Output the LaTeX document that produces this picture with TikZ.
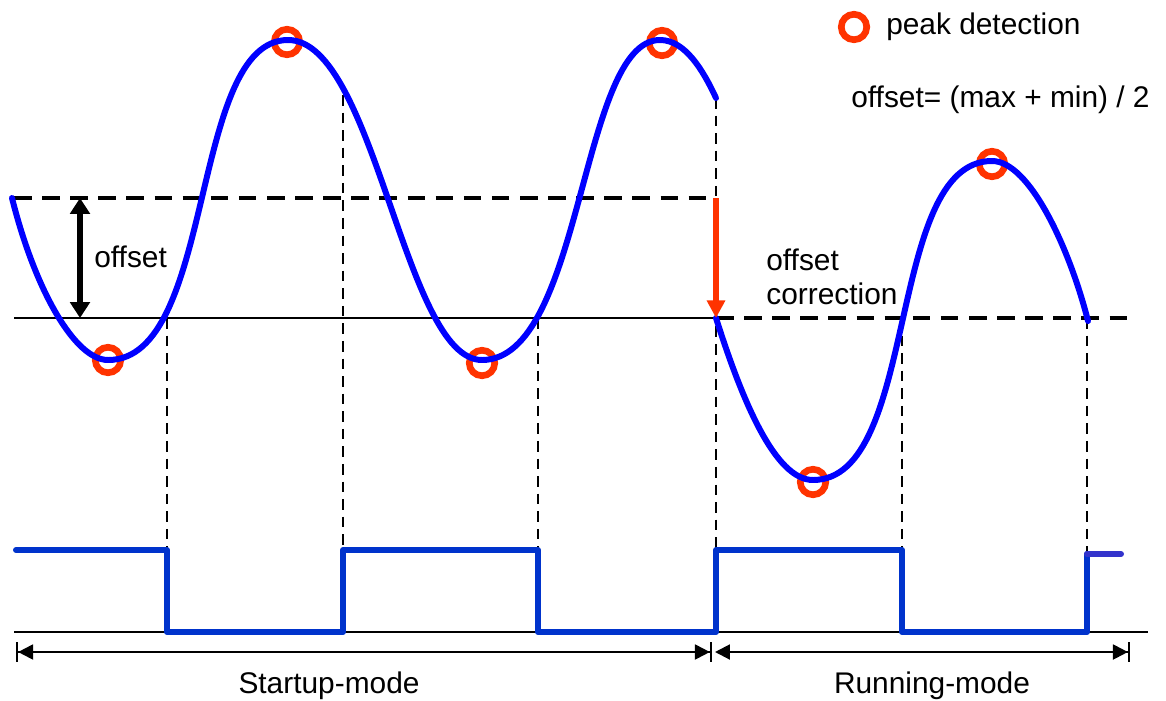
\documentclass[tikz,border=0pt]{standalone}
\usepackage{fontspec}
\setmainfont{Liberation Sans}
\usetikzlibrary{arrows.meta,positioning}

\definecolor{wblue}{HTML}{0000FF}
\definecolor{sqblue}{HTML}{0033CC}
\definecolor{stubblue}{HTML}{3333CC}
\definecolor{pkred}{HTML}{FF3300}

\begin{document}
\begin{tikzpicture}[x=0.02cm,y=-0.02cm,
    pk/.style={circle,draw=pkred,line width=3.8pt,minimum size=14.5pt,inner sep=0pt},
    sig/.style={wblue,line width=3.4pt,line cap=round},
    sq/.style={sqblue,line width=3.4pt,line join=round,line cap=round},
    lvl/.style={line width=2.8pt,dash pattern=on 10pt off 6pt},
    guide/.style={line width=1.1pt,dash pattern=on 6pt off 4pt},
    axis/.style={line width=1.1pt},
    mode/.style={line width=1.2pt},
    txt/.style={font=\fontsize{17}{19.3}\selectfont,inner sep=0pt}]
  \useasboundingbox (0,0) rectangle (1166,700);

  % levels
  \coordinate (o0) at (14,198);
  \coordinate (o1) at (716,198);
  \coordinate (b0) at (14,318);
  \coordinate (b1) at (716,318);
  \coordinate (b2) at (1136,318);
  \coordinate (g0) at (14,632);
  \coordinate (g1) at (1148,632);

  % square wave corners
  \coordinate (q0) at (16,550);
  \coordinate (q1) at (167,550);
  \coordinate (q2) at (167,632);
  \coordinate (q3) at (343,632);
  \coordinate (q4) at (343,550);
  \coordinate (q5) at (538,550);
  \coordinate (q6) at (538,632);
  \coordinate (q7) at (716,632);
  \coordinate (q8) at (716,550);
  \coordinate (q9) at (902,550);
  \coordinate (q10) at (902,632);
  \coordinate (q11) at (1087,632);
  \coordinate (q12) at (1087,554);
  \coordinate (q13) at (1121,554);

  % switching points on the signal
  \coordinate (v1) at (167,318);
  \coordinate (v2) at (343,95);
  \coordinate (v3) at (538,318);
  \coordinate (v4) at (716,98);
  \coordinate (v5) at (902,318);
  \coordinate (v6) at (1087,318);

  \draw[guide] (v1) -- (q1);
  \draw[guide] (v2) -- (q4);
  \draw[guide] (v3) -- (q5);
  \draw[guide] (v4) -- (q8);
  \draw[guide] (v5) -- (q9);
  \draw[guide] (v6) -- (q12);

  \draw[axis] (b0) -- (b1);
  \draw[axis] (g0) -- (g1);
  \draw[lvl] (o0) -- (o1);
  \draw[lvl] (b1) -- (b2);

  % peaks
  \node[pk] (pk1) at (108,360) {};
  \node[pk] (pk2) at (287,42) {};
  \node[pk] (pk3) at (482,363) {};
  \node[pk] (pk4) at (662,43) {};
  \node[pk] (pk5) at (813,482) {};
  \node[pk] (pk6) at (992,164) {};

  % signal
  \draw[sig] (12,198) .. controls (35,290) and (75,360) .. (108,360)
    .. controls (216,360) and (189,40) .. (288,40)
    .. controls (375,40) and (404,360) .. (482,360)
    .. controls (583,360) and (580,40) .. (660,40)
    .. controls (685,40) and (703,70) .. (716,98);
  \draw[sig] (716,318) .. controls (742,400) and (775,480) .. (813,480)
    .. controls (920,480) and (885,161) .. (992,161)
    .. controls (1030,161) and (1070,250) .. (1088,321);

  % comparator output
  \draw[sq] (q0) -- (q1) -- (q2) -- (q3) -- (q4) -- (q5) -- (q6) -- (q7) -- (q8) -- (q9)
    -- (q10) -- (q11) -- (q12);
  \draw[sq,stubblue] (q12) -- (q13);

  % offset arrows
  \coordinate (a0) at (80,198);
  \coordinate (a1) at (80,318);
  \draw[line width=3pt,{Triangle[length=9pt,width=11pt]}-{Triangle[length=9pt,width=11pt]}] (a0) -- (a1);
  \draw[pkred,line width=3.2pt,-{Triangle[length=10pt,width=10pt]}] (o1) -- (b1);

  % modes
  \coordinate (m0) at (16,652);
  \coordinate (m1) at (712,652);
  \coordinate (m2) at (715,652);
  \coordinate (m3) at (1130,652);
  \draw[mode,{Bar[width=11pt]Triangle[length=8.5pt,width=8.5pt]}-{Triangle[length=8.5pt,width=8.5pt]Bar[width=11pt]}] (m0) -- (m1);
  \draw[mode,{Triangle[length=8.5pt,width=8.5pt]}-{Triangle[length=8.5pt,width=8.5pt]Bar[width=11pt]}] (m2) -- (m3);

  % texts
  \node[txt,anchor=base west] (offlbl) at (94,267) {offset};
  \node[txt,anchor=north west,align=left] (corrlbl) at (766,249) {offset\\correction};
  \node[pk] (lgd) at (854,27) {};
  \node[txt,right=9pt of lgd] (pklbl) {peak detection};
  \node[txt,anchor=base west] (fmla) at (851,107) {offset= (max + min) / 2};
  \node[txt,anchor=base] (startlbl) at (329,693) {Startup-mode};
  \node[txt,anchor=base] (runlbl) at (932,693) {Running-mode};
\end{tikzpicture}
\end{document}
